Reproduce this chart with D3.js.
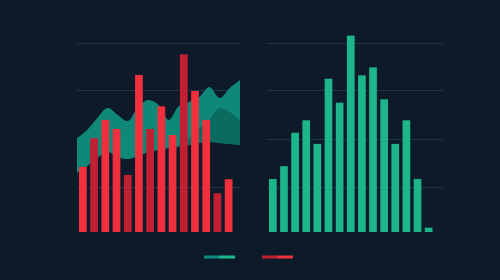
<!DOCTYPE html>
<html>
<head>
<meta charset="utf-8">
<script src="https://cdn.jsdelivr.net/npm/d3@7"></script>
<style>
  html, body { margin: 0; padding: 0; background: #0d1a29; }
  svg { display: block; }
</style>
</head>
<body>
<svg id="chart"></svg>
<script>
const width = 500;
const height = 280;

// left panel: red bars over a teal band
const redBars = [34.5, 49.6, 59.3, 54.5, 30.2, 83.1, 54.5, 66.5, 51.3, 94, 74.6, 59.3, 20.5, 27.9];
const redShade = ["light", "dark", "light", "light", "dark", "light", "dark", "light", "light", "dark", "light", "light", "dark", "light"];
const bandTop = [49.7, 54.0, 60.3, 65.6, 61.9, 58.7, 66.1, 69.8, 67.2, 59.3, 66.7, 68.8, 71.4, 76.7, 70.9, 76.2, 80.4];
const bandMid = [31.2, 34.9, 39.2, 42.3, 39.7, 38.6, 40.2, 42.3, 43.4, 44.4, 46.0, 49.7, 55.0, 59.3, 65.6, 63.5, 59.3];
const bandLow = [31.2, 34.9, 39.2, 42.3, 39.7, 38.6, 40.2, 42.3, 43.4, 44.4, 45.0, 46.0, 47.1, 47.6, 47.1, 46.6, 46.0];

// right panel: green bars
const greenBars = [28, 34.8, 52.5, 59.1, 46.6, 81.1, 68.4, 103.9, 82.9, 87.1, 70.2, 46.6, 59.1, 28, 2.3];

const gridValues = [24, 49, 75, 100];

const svg = d3.select("#chart")
  .attr("width", width)
  .attr("height", height);

svg.append("rect")
  .attr("width", width)
  .attr("height", height)
  .attr("fill", "#0d1a29");

const y = d3.scaleLinear().domain([0, 100]).range([232, 43]);

// gridlines
function grid(x0, x1) {
  svg.append("g")
    .selectAll("line")
    .data(gridValues)
    .enter()
    .append("line")
    .attr("x1", x0)
    .attr("x2", x1)
    .attr("y1", d => Math.round(y(d)) + 0.5)
    .attr("y2", d => Math.round(y(d)) + 0.5)
    .attr("stroke", "#23344a")
    .attr("stroke-width", 1);
}
grid(77, 240);
grid(267, 443);

// teal band
const xBand = d3.scaleLinear().domain([0, bandTop.length - 1]).range([77, 240]);

svg.append("path")
  .datum(d3.range(bandTop.length))
  .attr("fill", "#0f8878")
  .attr("d", d3.area()
    .x(i => xBand(i))
    .y0(i => y(bandLow[i]))
    .y1(i => y(bandTop[i]))
    .curve(d3.curveCatmullRom));

svg.append("path")
  .datum(d3.range(bandMid.length))
  .attr("fill", "#0b6b61")
  .attr("d", d3.area()
    .x(i => xBand(i))
    .y0(i => y(bandLow[i]))
    .y1(i => y(bandMid[i]))
    .curve(d3.curveCatmullRom));

// red bars
const xLeft = d3.scaleBand()
  .domain(d3.range(redBars.length))
  .range([79, 232.5])
  .paddingInner(0.31)
  .paddingOuter(0);

svg.append("g")
  .selectAll("rect")
  .data(redBars)
  .enter()
  .append("rect")
  .attr("x", (d, i) => xLeft(i))
  .attr("y", d => y(d))
  .attr("width", xLeft.bandwidth())
  .attr("height", d => y(0) - y(d))
  .attr("fill", (d, i) => redShade[i] === "dark" ? "#c21f32" : "#f0313d");

// green bars
const xRight = d3.scaleBand()
  .domain(d3.range(greenBars.length))
  .range([269, 432.5])
  .paddingInner(0.31)
  .paddingOuter(0);

svg.append("g")
  .selectAll("rect")
  .data(greenBars)
  .enter()
  .append("rect")
  .attr("x", (d, i) => xRight(i))
  .attr("y", d => y(d))
  .attr("width", xRight.bandwidth())
  .attr("height", d => y(0) - y(d))
  .attr("fill", "#1db68b");

// legend swatches, dark half then bright half
const legend = [
  { x: 204, dark: "#0e8a7c", light: "#1bb88e" },
  { x: 262, dark: "#c01f30", light: "#f0313d" }
];
const lg = svg.append("g");
legend.forEach(l => {
  lg.append("rect").attr("x", l.x).attr("y", 255.5).attr("width", 15).attr("height", 3).attr("fill", l.dark);
  lg.append("rect").attr("x", l.x + 15).attr("y", 255.5).attr("width", 16).attr("height", 3).attr("fill", l.light);
});
</script>
</body>
</html>
